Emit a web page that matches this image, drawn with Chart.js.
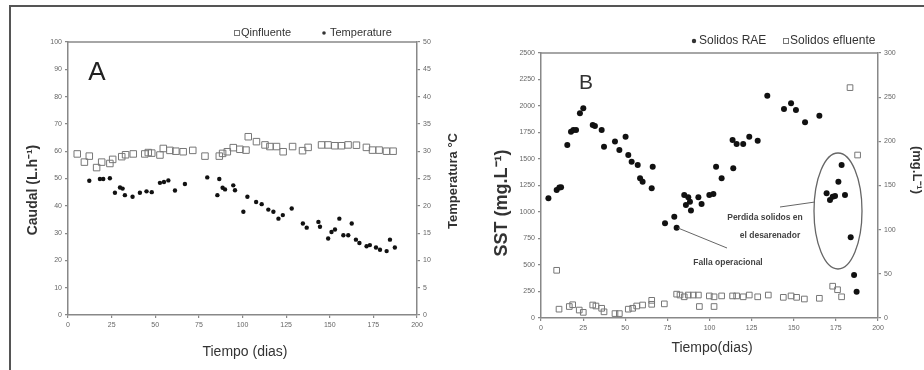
<!DOCTYPE html>
<html><head><meta charset="utf-8">
<script src="https://cdn.jsdelivr.net/npm/chart.js@4/dist/chart.umd.min.js"></script>
<style>
html,body{margin:0;padding:0;background:#fff;}
#wrap{position:relative;width:924px;height:370px;overflow:hidden;background:#fff;}
.fr{position:absolute;background:#555;z-index:5;}
#ca{position:absolute;left:0;top:0;}
#cb{position:absolute;left:462px;top:0;}
</style></head>
<body><div id="wrap">
<canvas id="ca" width="462" height="370"></canvas>
<canvas id="cb" width="462" height="370"></canvas>
<div class="fr" style="left:9px;top:5px;width:915px;height:2px"></div>
<div class="fr" style="left:9px;top:5px;width:2px;height:365px"></div>
</div>
<script>
// ---------- Panel A data ----------
const daysQ = [5.3,9.4,12.2,16.4,19.3,24,25.6,30.8,33,37.4,44,46,48,52.7,54.6,58.4,61.8,66,71.5,78.5,86.7,88.6,91.3,94.7,98.5,102,103.3,108,112.9,115.7,119.5,123.3,128.7,134.4,137.6,145.3,149,152.9,156.7,160.5,165.3,171,174.5,178.3,182.5,186.3];
const caudalQ = [59,56,58.2,54,56,55.5,57,58,58.7,59,59,59.5,59.3,58.6,61,60.3,60,59.8,60.3,58.2,58.2,59.2,59.8,61.3,60.7,60.4,65.3,63.5,62.3,61.7,61.7,59.8,61.7,60.2,61.4,62.3,62.3,62,62,62.3,62.2,61.4,60.4,60.4,60,60];
const daysT = [12.2,18.3,20.2,24,26.9,29.8,31.3,32.6,37,41.2,45,48,52.7,55,57.5,61.3,67,79.8,85.6,86.7,88.6,90,94.7,95.7,100.5,102.8,107.8,111,114.8,117.7,120.6,123.1,128.2,134.6,136.8,143.5,144.4,149.1,151,153,155.5,157.8,160.6,162.6,165,167,171.1,173,176.5,178.8,182.6,184.5,187.3];
const tempT = [24.6,24.9,24.9,25.05,22.4,23.35,23.15,21.95,21.65,22.4,22.65,22.5,24.2,24.35,24.65,22.8,24,25.2,21.95,24.9,23.3,23,23.75,22.85,18.9,21.65,20.7,20.3,19.3,18.9,17.65,18.3,19.5,16.75,16,17.05,16.15,14,15.2,15.65,17.65,14.6,14.6,16.75,13.8,13.2,12.6,12.8,12.35,11.95,11.7,13.8,12.35];
const xTicks = [0,25,50,75,100,125,150,175,200];
const caudalTicks = [0,10,20,30,40,50,60,70,80,90,100];
const tempTicks = [0,5,10,15,20,25,30,35,40,45,50];

// ---------- Panel B data ----------
const daysRAE = [4.4,9.3,10.9,11.9,15.6,17.8,19.2,20.8,23.1,25.1,30.7,32,36,37.4,43.9,46.5,50.2,51.8,53.8,57.4,58.8,60.3,65.7,66.3,73.6,79.1,80.5,85,86,87.4,88.4,89,93.4,95.3,99.9,102.3,103.9,107.2,114.1,113.7,116.1,120,123.6,128.6,134.3,144.2,148.4,151.3,156.7,165.2,169.5,171.5,173.1,174.5,176.5,178.4,180.4,183.8,185.8,187.3];
const sstRAE = [1129,1208,1230,1233,1632,1758,1774,1774,1931,1978,1821,1811,1774,1616,1664,1585,1711,1538,1475,1443,1318,1286,1223,1428,893,956,852,1160,1066,1138,1097,1013,1138,1075,1160,1170,1428,1318,1412,1679,1642,1642,1711,1673,2097,1972,2025,1962,1846,1909,1176,1113,1145,1151,1286,1443,1160,761,406,248];
const daysEf = [9.3,10.7,16.8,18.8,22.7,25.1,30.7,32.6,36,37.4,43.9,46.5,51.8,54.4,56.8,60.3,65.7,65.7,73.2,80.5,82.5,85,87.4,90.4,93.4,94,99.9,102.7,102.7,107.2,113.7,116.1,120,123.6,128.6,134.9,143.8,148.4,151.7,156.3,165.2,173.1,176,178.4,183.4,187.9];
const sstEf = [54,10,13,15,9,6.4,14.7,13.6,11,7,5,5,10,11,13.6,14.7,20,15.5,16,27,26,24,26,26,26,13,25,24,13,25,25,25,24,26,24,26,23.4,25,23.4,21.5,22.3,36,32,24,260.8,184.5];
const sstTicks = [0,250,500,750,1000,1250,1500,1750,2000,2250,2500];
const efTicks = [0,50,100,150,200,250,300];

const FONT = '"Liberation Sans", Arial, sans-serif';
const AX = '#888';
const pts = (xs, ys) => xs.map((x, i) => ({x: x, y: ys[i]}));

function axisCommon(list, extra) {
  return Object.assign({
    type: 'linear',
    grid: {drawOnChartArea: false, drawTicks: true, tickLength: 3, color: AX, lineWidth: 1.2},
    border: {color: AX, width: 1.5},
    ticks: {font: {family: FONT, size: 7}, color: '#666', padding: 3, callback: v => String(v)},
    afterBuildTicks: s => { s.ticks = list.map(v => ({value: v})); }
  }, extra);
}

function vText(ctx, txt, x, y, rot, font, color) {
  ctx.save();
  ctx.translate(x, y);
  ctx.rotate(rot);
  ctx.font = font;
  ctx.fillStyle = color;
  ctx.textAlign = 'center';
  ctx.textBaseline = 'middle';
  ctx.fillText(txt, 0, 0);
  ctx.restore();
}

const overlayA = {
  id: 'overlayA',
  afterDraw(chart) {
    const ctx = chart.ctx, a = chart.chartArea;
    ctx.save();
    ctx.strokeStyle = AX; ctx.lineWidth = 1.5;
    ctx.beginPath(); ctx.moveTo(a.left, a.top); ctx.lineTo(a.right, a.top); ctx.stroke();
    // legend
    ctx.strokeStyle = '#777'; ctx.lineWidth = 1;
    ctx.strokeRect(234.5, 30.5, 5, 5);
    ctx.fillStyle = '#333'; ctx.font = '11px ' + FONT; ctx.textBaseline = 'middle'; ctx.textAlign = 'left';
    ctx.fillText('Qinfluente', 241, 33);
    ctx.beginPath(); ctx.arc(324, 33, 1.8, 0, Math.PI * 2); ctx.fill();
    ctx.fillText('Temperature', 330, 33);
    // letter
    ctx.font = '26px ' + FONT; ctx.textAlign = 'center';
    ctx.fillStyle = '#222';
    ctx.fillText('A', 97, 73);
    ctx.restore();
    vText(ctx, 'Caudal (L.h\u207B\u00B9)', 33, 190, -Math.PI / 2, 'bold 14px ' + FONT, '#333');
    vText(ctx, 'Temperatura \u00B0C', 453, 181, -Math.PI / 2, 'bold 13px ' + FONT, '#333');
    vText(ctx, 'Tiempo (dias)', 245, 352, 0, '14px ' + FONT, '#333');
  }
};

const overlayB = {
  id: 'overlayB',
  afterDraw(chart) {
    const ctx = chart.ctx, a = chart.chartArea;
    ctx.save();
    ctx.strokeStyle = AX; ctx.lineWidth = 1.5;
    ctx.beginPath(); ctx.moveTo(a.left, a.top); ctx.lineTo(a.right, a.top); ctx.stroke();
    // legend
    ctx.fillStyle = '#333'; ctx.font = '12px ' + FONT; ctx.textBaseline = 'middle'; ctx.textAlign = 'left';
    ctx.beginPath(); ctx.arc(232, 41, 2.2, 0, Math.PI * 2); ctx.fill();
    ctx.fillText('Solidos RAE', 237, 41);
    ctx.strokeStyle = '#777'; ctx.lineWidth = 1;
    ctx.strokeRect(321.5, 38.5, 5, 5);
    ctx.fillText('Solidos efluente', 328, 41);
    // letter
    ctx.font = '21px ' + FONT; ctx.textAlign = 'center'; ctx.fillStyle = '#333';
    ctx.fillText('B', 124, 83);
    // annotations
    ctx.font = 'bold 8.5px ' + FONT; ctx.fillStyle = '#444';
    ctx.fillText('Perdida solidos en', 303, 218);
    ctx.fillText('el desarenador', 308, 236);
    ctx.fillText('Falla operacional', 266, 263);
    ctx.strokeStyle = '#666'; ctx.lineWidth = 1;
    ctx.beginPath(); ctx.moveTo(216, 228); ctx.lineTo(265, 248); ctx.stroke();
    ctx.beginPath(); ctx.moveTo(318, 207); ctx.lineTo(353, 202); ctx.stroke();
    ctx.lineWidth = 1.3;
    ctx.beginPath(); ctx.ellipse(376, 211, 24, 58, 0, 0, Math.PI * 2); ctx.stroke();
    ctx.restore();
    vText(ctx, 'SST (mg.L\u207B\u00B9)', 40, 203, -Math.PI / 2, 'bold 18px ' + FONT, '#333');
    vText(ctx, '(mg.L\u207B\u00B9)', 455, 170, Math.PI / 2, 'bold 13px ' + FONT, '#333');
    vText(ctx, 'Tiempo(dias)', 250, 348, 0, '14px ' + FONT, '#333');
  }
};

new Chart(document.getElementById('ca'), {
  type: 'scatter',
  data: {datasets: [
    {label: 'Qinfluente', data: pts(daysQ, caudalQ), yAxisID: 'y', pointStyle: 'rect', pointRadius: 4.6,
     backgroundColor: 'rgba(255,255,255,0)', borderColor: '#777', borderWidth: 1},
    {label: 'Temperature', data: pts(daysT, tempT), yAxisID: 'y2', pointStyle: 'circle', pointRadius: 2.2,
     backgroundColor: '#111', borderColor: '#111', borderWidth: 0}
  ]},
  options: {
    responsive: false, animation: false, events: [],
    layout: {padding: {top: 42, left: 0, right: 0, bottom: 0}},
    plugins: {legend: {display: false}, tooltip: {enabled: false}},
    scales: {
      x: axisCommon(xTicks, {position: 'bottom', min: 0, max: 200, afterFit: s => { s.height = 55; }}),
      y: axisCommon(caudalTicks, {position: 'left', min: 0, max: 100, afterFit: s => { s.width = 68; }}),
      y2: axisCommon(tempTicks, {position: 'right', min: 0, max: 50, afterFit: s => { s.width = 45; }})
    }
  },
  plugins: [overlayA]
});

new Chart(document.getElementById('cb'), {
  type: 'scatter',
  data: {datasets: [
    {label: 'Solidos RAE', data: pts(daysRAE, sstRAE), yAxisID: 'y', pointStyle: 'circle', pointRadius: 3,
     backgroundColor: '#111', borderColor: '#111', borderWidth: 0},
    {label: 'Solidos efluente', data: pts(daysEf, sstEf), yAxisID: 'y2', pointStyle: 'rect', pointRadius: 4,
     backgroundColor: 'rgba(255,255,255,0)', borderColor: '#777', borderWidth: 1}
  ]},
  options: {
    responsive: false, animation: false, events: [],
    layout: {padding: {top: 53, left: 0, right: 0, bottom: 0}},
    plugins: {legend: {display: false}, tooltip: {enabled: false}},
    scales: {
      x: axisCommon(xTicks, {position: 'bottom', min: 0, max: 200, afterFit: s => { s.height = 52; }}),
      y: axisCommon(sstTicks, {position: 'left', min: 0, max: 2500, afterFit: s => { s.width = 79; }}),
      y2: axisCommon(efTicks, {position: 'right', min: 0, max: 300, afterFit: s => { s.width = 46; }})
    }
  },
  plugins: [overlayB]
});
</script>
</body></html>
